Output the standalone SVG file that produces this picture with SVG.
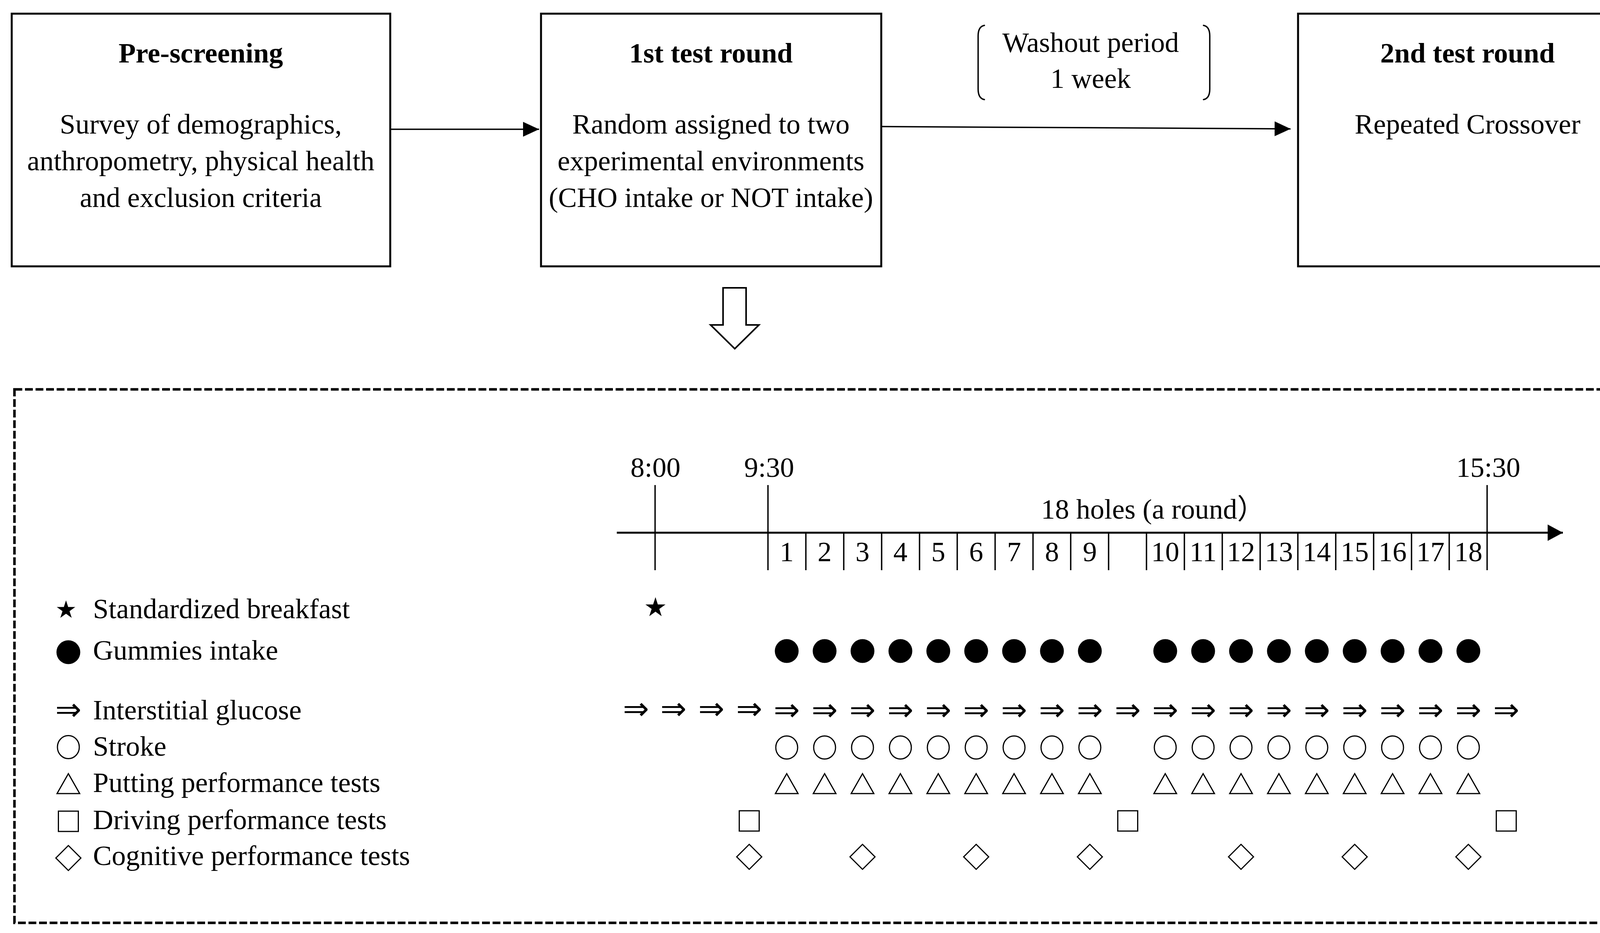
<svg xmlns="http://www.w3.org/2000/svg" width="4222" height="2389" viewBox="0 0 4222 2389">
<style>
text{font-family:"Liberation Serif","Times New Roman","Noto Sans CJK SC",serif;font-size:72px;fill:#000}
.b{font-weight:bold}
.c{text-anchor:middle}
.box{fill:#fff;stroke:#000;stroke-width:5}
.ln{fill:none;stroke:#000;stroke-width:3.5}
.ax{fill:none;stroke:#000;stroke-width:5}
.tk{fill:none;stroke:#000;stroke-width:3.5}
.dash{fill:none;stroke:#000;stroke-width:6.5;stroke-dasharray:20 7}
.brk{fill:none;stroke:#000;stroke-width:3.5;stroke-linecap:round}
.mk{fill:#fff;stroke:#000;stroke-width:3}
.fill{fill:#000;stroke:none}
.arr{font-family:"DejaVu Sans",sans-serif;font-size:80px;text-anchor:middle}
</style>
<defs>
<marker id="ah" markerUnits="userSpaceOnUse" markerWidth="42" markerHeight="38" refX="41" refY="19" orient="auto"><path d="M0,0 L41,19 L0,38 Z" fill="#000"/></marker>
<marker id="ah2" markerUnits="userSpaceOnUse" markerWidth="40" markerHeight="42" refX="39" refY="21" orient="auto"><path d="M0,0 L39,21 L0,42 Z" fill="#000"/></marker>
<polygon id="star" class="fill" points="0,-27 6.05,-8.33 25.68,-8.34 9.8,3.18 15.87,21.84 0,10.3 -15.87,21.84 -9.8,3.18 -25.68,-8.34 -6.05,-8.33"/>
<circle id="gum" class="fill" r="30.5"/>
<ellipse id="ring" class="mk" rx="28" ry="29.5"/>
<polygon id="tri" class="mk" points="0,-26 29,25 -29,25"/>
<rect id="sq" class="mk" x="-25.5" y="-26" width="51" height="52"/>
<polygon id="dia" class="mk" points="0,-32 32,0 0,32 -32,0"/>
</defs>
<rect width="4222" height="2389" fill="#fff"/>

<g id="node-prescreening">
<rect class="box" x="30" y="35" width="969" height="647"/>
<text class="b c" x="514" y="160">Pre-screening</text>
<text class="c" x="514" y="342">Survey of demographics,</text>
<text class="c" x="514" y="436">anthropometry, physical health</text>
<text class="c" x="514" y="530">and exclusion criteria</text>
</g>

<g id="node-round1">
<rect class="box" x="1385" y="35" width="871" height="647"/>
<text class="b c" x="1820" y="160">1st test round</text>
<text class="c" x="1820" y="342">Random assigned to two</text>
<text class="c" x="1820" y="436">experimental environments</text>
<text class="c" x="1820" y="530">(CHO intake or NOT intake)</text>
</g>

<g id="node-round2">
<rect class="box" x="3323" y="35" width="869" height="647"/>
<text class="b c" x="3757" y="160">2nd test round</text>
<text class="c" x="3757" y="342">Repeated Crossover</text>
</g>

<g id="node-washout">
<path class="brk" d="M2520,65 Q2504,68 2504,92 L2504,228 Q2504,252 2520,255"/>
<path class="brk" d="M3081,65 Q3097,68 3097,92 L3097,228 Q3097,252 3081,255"/>
<text class="c" x="2792" y="133">Washout period</text>
<text class="c" x="2792" y="225">1 week</text>
</g>

<g id="connectors">
<line class="ln" x1="999" y1="331" x2="1380" y2="331" marker-end="url(#ah)"/>
<line class="ln" x1="2256" y1="324" x2="3304" y2="330" marker-end="url(#ah)"/>
<path d="M1851,737 L1910,737 L1910,832 L1943,832 L1881,893 L1819,832 L1851,832 Z" fill="#fff" stroke="#000" stroke-width="4" stroke-linejoin="miter"/>
</g>

<g id="node-schedule">
<rect class="dash" x="37" y="997" width="4151" height="1366"/>

<g id="timeline">
<line class="ax" x1="1579" y1="1364" x2="4001" y2="1364" marker-end="url(#ah2)"/>
<line class="tk" x1="1677" y1="1242" x2="1677" y2="1460"/>
<line class="tk" x1="1966" y1="1242" x2="1966" y2="1460"/>
<line class="tk" x1="3807" y1="1242" x2="3807" y2="1460"/>
<path class="tk" d="M2063,1364V1460M2160,1364V1460M2257,1364V1460M2354,1364V1460M2450.5,1364V1460M2547.5,1364V1460M2644.5,1364V1460M2741,1364V1460M2838,1364V1460M2935,1364V1460M3032,1364V1460M3129,1364V1460M3226,1364V1460M3322.5,1364V1460M3419.5,1364V1460M3516.5,1364V1460M3613.5,1364V1460M3710,1364V1460"/>
<text class="c" x="1678" y="1221">8:00</text>
<text class="c" x="1969" y="1221">9:30</text>
<text class="c" x="3810" y="1221">15:30</text>
<text x="2665" y="1328">18 holes (a round）</text>
<g class="c">
<text class="c" x="2014" y="1437">1</text>
<text class="c" x="2111" y="1437">2</text>
<text class="c" x="2208" y="1437">3</text>
<text class="c" x="2305" y="1437">4</text>
<text class="c" x="2402" y="1437">5</text>
<text class="c" x="2499" y="1437">6</text>
<text class="c" x="2596" y="1437">7</text>
<text class="c" x="2693" y="1437">8</text>
<text class="c" x="2790" y="1437">9</text>
<text class="c" x="2983" y="1437">10</text>
<text class="c" x="3080" y="1437">11</text>
<text class="c" x="3177" y="1437">12</text>
<text class="c" x="3274" y="1437">13</text>
<text class="c" x="3371" y="1437">14</text>
<text class="c" x="3468" y="1437">15</text>
<text class="c" x="3565" y="1437">16</text>
<text class="c" x="3662" y="1437">17</text>
<text class="c" x="3759" y="1437">18</text>
</g>
</g>

<g id="legend">
<use href="#star" transform="translate(169,1562) scale(0.92)"/>
<text x="238" y="1583">Standardized breakfast</text>
<use href="#gum" x="175" y="1670"/>
<text x="238" y="1689">Gummies intake</text>
<text class="arr" x="175" y="1844">⇒</text>
<text x="238" y="1842">Interstitial glucose</text>
<use href="#ring" x="175" y="1913"/>
<text x="238" y="1935">Stroke</text>
<use href="#tri" x="175" y="2007"/>
<text x="238" y="2028">Putting performance tests</text>
<use href="#sq" x="175" y="2103"/>
<text x="238" y="2123">Driving performance tests</text>
<use href="#dia" x="175" y="2197"/>
<text x="238" y="2215">Cognitive performance tests</text>
</g>

<g id="row-breakfast">
<use href="#star" x="1678" y="1556"/>
</g>

<g id="row-gummies">
<use href="#gum" x="2014" y="1667"/><use href="#gum" x="2111" y="1667"/><use href="#gum" x="2208" y="1667"/><use href="#gum" x="2305" y="1667"/><use href="#gum" x="2402" y="1667"/><use href="#gum" x="2499" y="1667"/><use href="#gum" x="2596" y="1667"/><use href="#gum" x="2693" y="1667"/><use href="#gum" x="2790" y="1667"/>
<use href="#gum" x="2983" y="1667"/><use href="#gum" x="3080" y="1667"/><use href="#gum" x="3177" y="1667"/><use href="#gum" x="3274" y="1667"/><use href="#gum" x="3371" y="1667"/><use href="#gum" x="3468" y="1667"/><use href="#gum" x="3565" y="1667"/><use href="#gum" x="3662" y="1667"/><use href="#gum" x="3759" y="1667"/>
</g>

<g id="row-glucose">
<text class="arr" x="1628" y="1842">⇒</text><text class="arr" x="1724" y="1842">⇒</text><text class="arr" x="1821" y="1842">⇒</text><text class="arr" x="1918" y="1842">⇒</text>
<text class="arr" x="2014" y="1845">⇒</text><text class="arr" x="2111" y="1845">⇒</text><text class="arr" x="2208" y="1845">⇒</text><text class="arr" x="2305" y="1845">⇒</text><text class="arr" x="2402" y="1845">⇒</text><text class="arr" x="2499" y="1845">⇒</text><text class="arr" x="2596" y="1845">⇒</text><text class="arr" x="2693" y="1845">⇒</text><text class="arr" x="2790" y="1845">⇒</text><text class="arr" x="2887" y="1845">⇒</text>
<text class="arr" x="2983" y="1845">⇒</text><text class="arr" x="3080" y="1845">⇒</text><text class="arr" x="3177" y="1845">⇒</text><text class="arr" x="3274" y="1845">⇒</text><text class="arr" x="3371" y="1845">⇒</text><text class="arr" x="3468" y="1845">⇒</text><text class="arr" x="3565" y="1845">⇒</text><text class="arr" x="3662" y="1845">⇒</text><text class="arr" x="3759" y="1845">⇒</text><text class="arr" x="3856" y="1845">⇒</text>
</g>

<g id="row-stroke">
<use href="#ring" x="2014" y="1914"/><use href="#ring" x="2111" y="1914"/><use href="#ring" x="2208" y="1914"/><use href="#ring" x="2305" y="1914"/><use href="#ring" x="2402" y="1914"/><use href="#ring" x="2499" y="1914"/><use href="#ring" x="2596" y="1914"/><use href="#ring" x="2693" y="1914"/><use href="#ring" x="2790" y="1914"/>
<use href="#ring" x="2983" y="1914"/><use href="#ring" x="3080" y="1914"/><use href="#ring" x="3177" y="1914"/><use href="#ring" x="3274" y="1914"/><use href="#ring" x="3371" y="1914"/><use href="#ring" x="3468" y="1914"/><use href="#ring" x="3565" y="1914"/><use href="#ring" x="3662" y="1914"/><use href="#ring" x="3759" y="1914"/>
</g>

<g id="row-putting">
<use href="#tri" x="2014" y="2007"/><use href="#tri" x="2111" y="2007"/><use href="#tri" x="2208" y="2007"/><use href="#tri" x="2305" y="2007"/><use href="#tri" x="2402" y="2007"/><use href="#tri" x="2499" y="2007"/><use href="#tri" x="2596" y="2007"/><use href="#tri" x="2693" y="2007"/><use href="#tri" x="2790" y="2007"/>
<use href="#tri" x="2983" y="2007"/><use href="#tri" x="3080" y="2007"/><use href="#tri" x="3177" y="2007"/><use href="#tri" x="3274" y="2007"/><use href="#tri" x="3371" y="2007"/><use href="#tri" x="3468" y="2007"/><use href="#tri" x="3565" y="2007"/><use href="#tri" x="3662" y="2007"/><use href="#tri" x="3759" y="2007"/>
</g>

<g id="row-driving">
<use href="#sq" x="1918" y="2102"/><use href="#sq" x="2887" y="2102"/><use href="#sq" x="3856" y="2102"/>
</g>

<g id="row-cognitive">
<use href="#dia" x="1918" y="2194"/><use href="#dia" x="2208" y="2194"/><use href="#dia" x="2499" y="2194"/><use href="#dia" x="2790" y="2194"/><use href="#dia" x="3177" y="2194"/><use href="#dia" x="3468" y="2194"/><use href="#dia" x="3759" y="2194"/>
</g>
</g>
</svg>
